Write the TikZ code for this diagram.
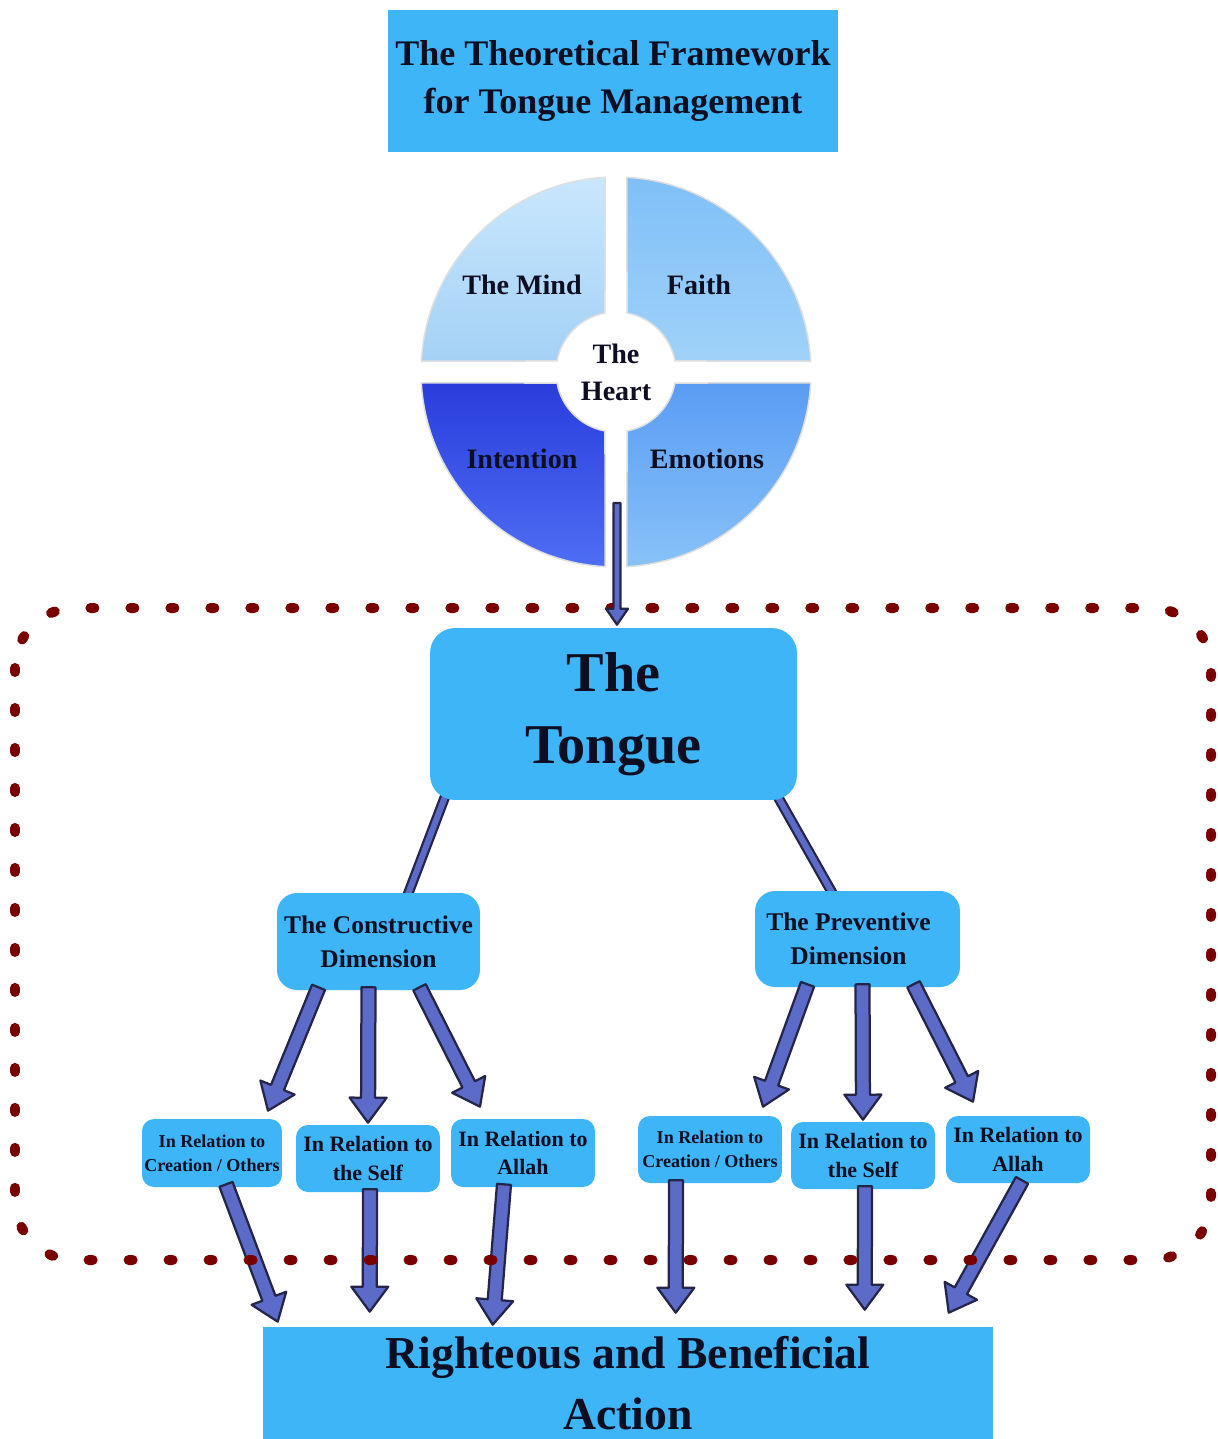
\documentclass[tikz,border=0pt]{standalone}
\usepackage{fontspec}
\setmainfont{Liberation Serif}
\usetikzlibrary{calc,backgrounds,positioning}
\definecolor{boxblue}{HTML}{3DB5F6}
\definecolor{arrowblue}{HTML}{5C6BC8}
\definecolor{arrowdark}{HTML}{25254A}
\definecolor{dotred}{HTML}{7A0000}
\definecolor{inktext}{HTML}{0E0E22}
\tikzset{>=latex}
\tikzset{box/.style={fill=boxblue,text=inktext,align=center,inner sep=0pt}}
\tikzset{wheeltext/.style={text=inktext,align=center,font=\bfseries\fontsize{16}{20}\selectfont}}
\tikzset{fatarrow/.style={draw=arrowdark,fill=arrowblue,line width=0.045cm,line join=round}}
\tikzset{link/.style={draw=arrowdark,double=arrowblue,double distance=0.12cm,line width=0.045cm}}
\def\shaftw{0.14cm}
\def\headw{0.37cm}
\def\headl{0.5cm}
\newcommand{\bigarrow}[2]{%
  \path (#1) coordinate (fa-a) (#2) coordinate (fa-b);
  \coordinate (fa-h) at ($(fa-b)!\headl!(fa-a)$);
  \draw[fatarrow] ($(fa-a)!\shaftw!90:(fa-b)$) -- ($(fa-h)!\shaftw!-90:(fa-a)$)
    -- ($(fa-h)!\headw!-90:(fa-a)$) -- (fa-b) -- ($(fa-h)!\headw!90:(fa-a)$)
    -- ($(fa-h)!\shaftw!90:(fa-a)$) -- ($(fa-a)!\shaftw!-90:(fa-b)$) -- cycle;}

\begin{document}
\begin{tikzpicture}[x=0.02cm,y=-0.02cm]
  \useasboundingbox (0,0) rectangle (1217,1439);
  % Title
  \node[box,minimum width=9cm,minimum height=2.84cm,font=\bfseries\fontsize{20.5}{27.5}\selectfont] (title) at (613,81) {The Theoretical Framework\\for Tongue Management};
  % Wheel
  \coordinate (hub) at (616,372);
  \foreach \a/\c/\d in {90/C9E7FD/A4D1F5, 0/7FBFF7/A0D2F9, 180/2A3DDC/4E6EF4, 270/5A9CF4/88C2F8} {
    \definecolor{qtop}{HTML}{\c}\definecolor{qbot}{HTML}{\d}
    \path[top color=qtop,bottom color=qbot,draw=white!75!gray,line width=0.03cm]
      ($(hub)+({-(\a+3.2)}:195)$) arc[start angle={-(\a+3.2)},end angle={-(\a+86.8)},radius=195]
      -- ($(hub)+({-(\a+79.4)}:60)$) arc[start angle={-(\a+79.4)},end angle={-(\a+10.6)},radius=60] -- cycle;
  }
  \node[wheeltext] (mind) at (522,285) {The Mind};
  \node[wheeltext] (faith) at (699,285) {Faith};
  \node[wheeltext] (intent) at (522,459) {Intention};
  \node[wheeltext] (emo) at (707,459) {Emotions};
  \node[wheeltext,font=\bfseries\fontsize{16}{21}\selectfont] (heart) at (hub) {The\\Heart};
  % Boxes
  \node[box,rounded corners=0.5cm,minimum width=7.34cm,minimum height=3.44cm,font=\bfseries\fontsize{32}{41}\selectfont] (tongue) at (613.5,714) {The\\Tongue};
  \node[box,rounded corners=0.4cm,minimum width=4.06cm,minimum height=1.94cm,font=\bfseries\fontsize{14.5}{19.5}\selectfont] (cons) at (378.5,941.5) {The Constructive\\Dimension};
  \node[box,rounded corners=0.4cm,minimum width=4.1cm,minimum height=1.92cm,font=\bfseries\fontsize{14.5}{19.5}\selectfont] (prev) at (857.5,939) {\hspace*{-0.36cm}The Preventive\\\hspace*{-0.36cm}Dimension};
  \node[box,rounded corners=0.24cm,minimum width=2.8cm,minimum height=1.36cm,font=\bfseries\fontsize{10.3}{13.6}\selectfont] (c1) at (212,1153) {In Relation to\\Creation / Others};
  \node[box,rounded corners=0.24cm,minimum width=2.88cm,minimum height=1.34cm,font=\bfseries\fontsize{12.5}{16}\selectfont] (c2) at (368,1158.5) {In Relation to\\the Self};
  \node[box,rounded corners=0.24cm,minimum width=2.88cm,minimum height=1.36cm,font=\bfseries\fontsize{12.5}{16}\selectfont] (c3) at (523,1153) {In Relation to\\Allah};
  \node[box,rounded corners=0.24cm,minimum width=2.88cm,minimum height=1.34cm,font=\bfseries\fontsize{10.3}{13.6}\selectfont] (p1) at (710,1149.5) {In Relation to\\Creation / Others};
  \node[box,rounded corners=0.24cm,minimum width=2.88cm,minimum height=1.34cm,font=\bfseries\fontsize{12.5}{16}\selectfont] (p2) at (863,1155.5) {In Relation to\\the Self};
  \node[box,rounded corners=0.24cm,minimum width=2.88cm,minimum height=1.34cm,font=\bfseries\fontsize{12.5}{16}\selectfont] (p3) at (1018,1149.5) {In Relation to\\Allah};
  \node[box,minimum width=14.6cm,minimum height=2.24cm,font=\bfseries\fontsize{26}{35}\selectfont] (act) at (628,1383) {Righteous and Beneficial\\Action};
  % Lines
  \begin{scope}[on background layer]
    \draw[link] ($(tongue.south west)+(17,-8)$) -- ($(cons.north)+(27,8)$);
    \draw[link] ($(tongue.south east)+(-22,-8)$) -- ($(prev.north)+(-22,8)$);
  \end{scope}
  \bigarrow{$(cons.south)+(-60,-3)$}{$(c1.north)+(56,-8)$}
  \bigarrow{$(cons.south)+(-10,-3)$}{$(c2.north)+(0,-2)$}
  \bigarrow{$(cons.south)+(41,-3)$}{$(c3.north)+(-43,-12)$}
  \bigarrow{$(prev.south)+(-50,-3)$}{$(p1.north)+(53,-9)$}
  \bigarrow{$(prev.south)+(5,-3)$}{$(p2.north)+(0,-2)$}
  \bigarrow{$(prev.south)+(56,-3)$}{$(p3.north)+(-45,-14)$}
  \bigarrow{$(c1.south)+(14,-3)$}{$(act.north west)+(15,-5)$}
  \bigarrow{$(c2.south)+(2,-3)$}{$(act.north west)+(107,-15)$}
  \bigarrow{$(c3.south)+(-19,-3)$}{$(act.north west)+(230,-2)$}
  \bigarrow{$(p1.south)+(-34,-3)$}{$(act.north west)+(413,-14)$}
  \bigarrow{$(p2.south)+(2,-3)$}{$(act.north west)+(602,-17)$}
  \bigarrow{$(p3.south)+(4,-3)$}{$(act.north west)+(686,-14)$}
  % Dotted frame
  \draw[dotred,line width=0.2cm,line cap=round,dash pattern=on 0.08cm off 0.72cm,rounded corners=1.2cm] (15,608) rectangle (1211,1260);
  % Heart to tongue
  {\def\shaftw{0.07cm}\def\headw{0.22cm}\def\headl{0.32cm}
  \bigarrow{$(heart.center)+(1,131)$}{$(tongue.north)+(3.5,-3)$}}
\end{tikzpicture}
\end{document}
